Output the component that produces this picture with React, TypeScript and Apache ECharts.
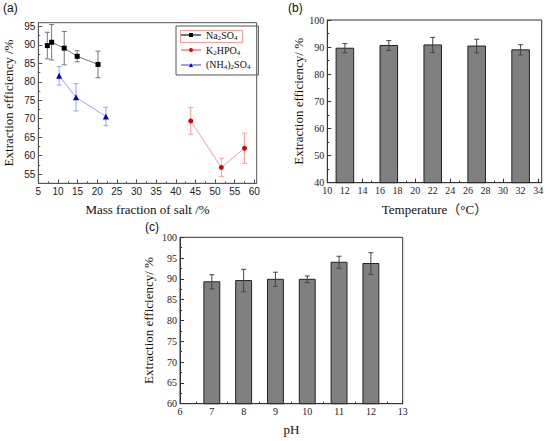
import { useRef, useEffect } from "react";
import * as echarts from "echarts";

// panel (a): mass fraction of salt
const naX = [7.3, 8.4, 11.6, 14.9, 20.2];
const naY = [89.8, 90.7, 89.1, 86.9, 84.7];
const naErr = [3.6, 4.8, 4.5, 1.5, 3.6];
const kX = [43.8, 51.6, 57.5];
const kY = [69.4, 56.8, 62.0];
const kErr = [3.6, 2.5, 4.1];
const nhX = [10.3, 14.6, 22.2];
const nhY = [81.6, 75.8, 70.6];
const nhErr = [2.5, 3.7, 2.5];
const saltNames = ["Na2SO4", "K2HPO4", "(NH4)2SO4"];
const aXTicks = [5, 10, 15, 20, 25, 30, 35, 40, 45, 50, 55, 60];
const aYTicks = [55, 60, 65, 70, 75, 80, 85, 90, 95];

// panel (b): temperature
const tempX = [12, 17, 22, 27, 32];
const tempY = [89.6, 90.6, 90.8, 90.4, 89.0];
const tempErr = [1.7, 1.8, 2.8, 2.5, 1.9];
const bXTicks = [10, 12, 14, 16, 18, 20, 22, 24, 26, 28, 30, 32, 34];
const bYTicks = [40, 50, 60, 70, 80, 90, 100];

// panel (c): pH
const phX = [7, 8, 9, 10, 11, 12];
const phY = [89.3, 89.6, 89.9, 89.9, 94.0, 93.7];
const phErr = [1.7, 2.7, 1.7, 0.8, 1.45, 2.6];
const cXTicks = [6, 7, 8, 9, 10, 11, 12, 13];
const cYTicks = [60, 65, 70, 75, 80, 85, 90, 95, 100];

const SERIF = "'Liberation Serif', 'Times New Roman', 'Noto Sans CJK SC', serif";
const SANS = "'Liberation Sans', Arial, sans-serif";

const minors = (ticks: number[], parts: number) => {
  const out: number[] = [];
  for (let i = 0; i < ticks.length - 1; i++) {
    const step = (ticks[i + 1] - ticks[i]) / parts;
    for (let k = 1; k < parts; k++) out.push(ticks[i] + k * step);
  }
  return out;
};

const zip3 = (a: number[], b: number[], c: number[]) => a.map((v, i) => [v, b[i], c[i]]);

const mainAxis = (
  gridIndex: number,
  position: string,
  min: number,
  max: number,
  ticks: number[],
  font: string,
  color: string,
  name: string,
  nameGap: number
): any => ({
  type: "value",
  gridIndex,
  position,
  min,
  max,
  name,
  nameLocation: "middle",
  nameGap,
  nameTextStyle: { fontFamily: SERIF, fontSize: 13, color: "#111" },
  axisLine: { show: true, lineStyle: { color, width: 1 } },
  axisTick: { show: true, inside: true, length: 4, customValues: ticks, lineStyle: { color } },
  axisLabel: { customValues: ticks, fontFamily: font, fontSize: 10, color: "#222", margin: 3 },
  splitLine: { show: false },
});

const minorAxis = (gridIndex: number, position: string, min: number, max: number, ticks: number[], color: string): any => ({
  type: "value",
  gridIndex,
  position,
  min,
  max,
  axisLine: { show: false },
  axisTick: { show: true, inside: true, length: 2, customValues: ticks, lineStyle: { color } },
  axisLabel: { show: false },
  splitLine: { show: false },
});

const errorBars = (xAxisIndex: number, yAxisIndex: number, data: number[][], color: string, cap: number): any => ({
  type: "custom",
  xAxisIndex,
  yAxisIndex,
  data,
  z: 5,
  silent: true,
  renderItem: (_p: any, api: any) => {
    const x = api.value(0);
    const y = api.value(1);
    const e = api.value(2);
    const top = api.coord([x, y + e]);
    const bot = api.coord([x, y - e]);
    const style = { stroke: color, lineWidth: 1 };
    return {
      type: "group",
      children: [
        { type: "line", shape: { x1: top[0], y1: top[1], x2: bot[0], y2: bot[1] }, style },
        { type: "line", shape: { x1: top[0] - cap, y1: top[1], x2: top[0] + cap, y2: top[1] }, style },
        { type: "line", shape: { x1: bot[0] - cap, y1: bot[1], x2: bot[0] + cap, y2: bot[1] }, style },
      ],
    };
  },
});

const bars = (xAxisIndex: number, yAxisIndex: number, xs: number[], ys: number[], width: number, base: number): any => ({
  type: "custom",
  xAxisIndex,
  yAxisIndex,
  data: xs.map((x, i) => [x, ys[i]]),
  z: 3,
  renderItem: (_p: any, api: any) => {
    const x = api.value(0);
    const y = api.value(1);
    const p0 = api.coord([x - width / 2, y]);
    const p1 = api.coord([x + width / 2, base]);
    return {
      type: "rect",
      shape: { x: p0[0], y: p0[1], width: p1[0] - p0[0], height: p1[1] - p0[1] },
      style: { fill: "#808080", stroke: "#222", lineWidth: 1 },
    };
  },
});

const App = () => {
  const chartRef = useRef<HTMLDivElement>(null);
  useEffect(() => {
    if (!chartRef.current) return;
    const myChart = echarts.init(chartRef.current, undefined, { renderer: "svg" });

    const subText = (name: string) => name.replace(/(\d)/g, "{s|$1}");

    const option: any = {
      animation: false,
      backgroundColor: "#fff",
      grid: [
        { left: 38.3, top: 22.7, width: 218.4, height: 160.6, show: true, borderColor: "#555", borderWidth: 1, backgroundColor: "transparent" },
        { left: 327.3, top: 20, width: 214.4, height: 162.7, show: true, borderColor: "#333", borderWidth: 1, backgroundColor: "transparent" },
        { left: 180, top: 237.3, width: 222.7, height: 166.4, show: true, borderColor: "#333", borderWidth: 1, backgroundColor: "transparent" },
      ],
      xAxis: [
        mainAxis(0, "bottom", 5, 60.6, aXTicks, SANS, "#555", "Mass fraction of salt /%", 20),
        minorAxis(0, "bottom", 5, 60.6, minors(aXTicks, 2), "#555"),
        mainAxis(1, "bottom", 10, 34.4, bXTicks, SERIF, "#333", "Temperature（°C）", 20),
        minorAxis(1, "bottom", 10, 34.4, minors(bXTicks, 2), "#333"),
        mainAxis(2, "bottom", 6, 13, cXTicks, SERIF, "#333", "pH", 19),
        minorAxis(2, "bottom", 6, 13, minors(cXTicks, 2), "#333"),
      ],
      yAxis: [
        mainAxis(0, "left", 52.5, 96, aYTicks, SANS, "#555", "Extraction efficiency /%", 23),
        minorAxis(0, "left", 52.5, 96, minors(aYTicks, 2), "#555"),
        mainAxis(1, "left", 40, 100, bYTicks, SERIF, "#333", "Extraction efficiency/ %", 20),
        minorAxis(1, "left", 40, 100, minors(bYTicks, 2), "#333"),
        mainAxis(2, "left", 60, 100, cYTicks, SERIF, "#333", "Extraction efficiency/ %", 25),
        minorAxis(2, "left", 60, 100, minors(cYTicks, 2), "#333"),
      ],
      legend: {
        data: saltNames,
        orient: "vertical",
        left: 176,
        top: 26,
        itemWidth: 20,
        itemHeight: 5,
        itemGap: 4,
        padding: [4, 8, 4, 4],
        borderColor: "#555",
        borderWidth: 1,
        formatter: subText,
        textStyle: {
          fontFamily: SERIF,
          fontSize: 10,
          color: "#111",
          rich: { s: { fontFamily: SERIF, fontSize: 7, padding: [5, 0, 0, 0] } },
        },
      },
      graphic: [
        { type: "text", left: 3, top: 2, style: { text: "(a)", font: `12px ${SANS}`, fill: "#111" } },
        { type: "text", left: 288, top: 2, style: { text: "(b)", font: `12px ${SANS}`, fill: "#111" } },
        { type: "text", left: 145, top: 221, style: { text: "(c)", font: `12px ${SANS}`, fill: "#111" } },
        { type: "rect", left: 178, top: 28, z: 10, shape: { width: 62, height: 12 }, style: { fill: "none", stroke: "#f0a0a0", lineWidth: 1 } },
      ],
      series: [
        {
          name: saltNames[0],
          type: "line",
          xAxisIndex: 0,
          yAxisIndex: 0,
          data: naX.map((x, i) => [x, naY[i]]),
          symbol: "rect",
          symbolSize: 5,
          itemStyle: { color: "#000" },
          lineStyle: { color: "#777", width: 1 },
          z: 6,
        },
        {
          name: saltNames[1],
          type: "line",
          xAxisIndex: 0,
          yAxisIndex: 0,
          data: kX.map((x, i) => [x, kY[i]]),
          symbol: "circle",
          symbolSize: 5,
          itemStyle: { color: "#e00000" },
          lineStyle: { color: "#f4a0a0", width: 1 },
          z: 6,
        },
        {
          name: saltNames[2],
          type: "line",
          xAxisIndex: 0,
          yAxisIndex: 0,
          data: nhX.map((x, i) => [x, nhY[i]]),
          symbol: "triangle",
          symbolSize: 6,
          itemStyle: { color: "#0000d0" },
          lineStyle: { color: "#a0a0f0", width: 1 },
          z: 6,
        },
        errorBars(0, 0, zip3(naX, naY, naErr), "#777", 2.5),
        errorBars(0, 0, zip3(kX, kY, kErr), "#f4a0a0", 2.5),
        errorBars(0, 0, zip3(nhX, nhY, nhErr), "#a0a0f0", 2.5),
        bars(2, 2, tempX, tempY, 2, 40),
        errorBars(2, 2, zip3(tempX, tempY, tempErr), "#444", 2.5),
        bars(4, 4, phX, phY, 0.5, 60),
        errorBars(4, 4, zip3(phX, phY, phErr), "#444", 2.5),
      ],
    };
    myChart.setOption(option);

    return () => {
      myChart.dispose();
    };
  }, []);

  return (
    <div
      ref={chartRef}
      style={{ position: "fixed", left: 0, top: 0, width: 550, height: 441, background: "#fff" }}
    ></div>
  );
};

export default App;
